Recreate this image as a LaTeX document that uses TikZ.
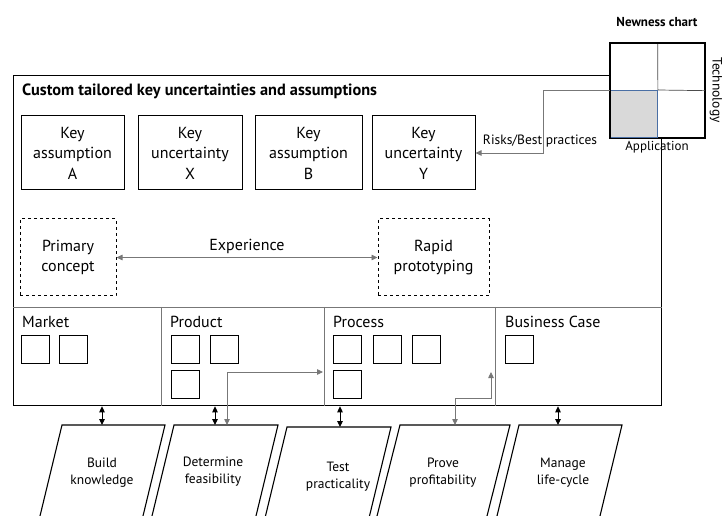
\documentclass[tikz,border=0pt]{standalone}
\usepackage{fontspec}
\setmainfont{PT Sans}
\usetikzlibrary{arrows.meta}
\definecolor{lgray}{HTML}{777777}
\definecolor{cellgray}{HTML}{D9D9D9}
\definecolor{cellblue}{HTML}{4A6FA5}
\begin{document}
\begin{tikzpicture}[x=1pt,y=-1pt,
  tip/.style={-{Triangle[length=6pt,width=5.5pt]}},
  dtip/.style={{Triangle[length=6pt,width=5.5pt]}-{Triangle[length=6pt,width=5.5pt]}},
  keybox/.style={draw,line width=1pt,minimum height=74pt,inner sep=0pt,align=center,font=\fontsize{16}{20.5}\selectfont},
  dashbox/.style={draw,dashed,line width=1pt,minimum height=77pt,inner sep=0pt,align=center,font=\fontsize{16}{19.5}\selectfont},
  sq/.style={draw,line width=1pt,minimum size=28pt,inner sep=0pt},
  sect/.style={anchor=base west,inner sep=0pt,font=\fontsize{16}{18}\selectfont},
  ptext/.style={align=center,font=\fontsize{13.5}{17}\selectfont},
  conn/.style={draw=lgray,line width=0.8pt},
  pgram/.style={draw,line width=1.1pt},
]
\useasboundingbox (0,0) rectangle (724,516);
\clip (0,0) rectangle (724,516);

% main box
\node[draw,line width=1.3pt,minimum width=648pt,minimum height=330pt,inner sep=0pt,anchor=north west] (main) at (13,75) {};
\node[anchor=base west,inner sep=0pt,font=\bfseries\fontsize{16.3}{18}\selectfont] (title) at (22,96) {Custom tailored key uncertainties and assumptions};

% key boxes
\node[keybox,minimum width=103pt] (kA) at (72.5,153) {Key\\assumption\\A};
\node[keybox,minimum width=104pt] (kX) at (190,153) {Key\\uncertainty\\X};
\node[keybox,minimum width=107pt] (kB) at (308.5,153) {Key\\assumption\\B};
\node[keybox,minimum width=103pt] (kY) at (423.5,153) {Key\\uncertainty\\Y};

% dashed boxes
\node[dashbox,minimum width=96pt] (prim) at (68,257.5) {Primary\\concept};
\node[dashbox,minimum width=111pt] (rapid) at (433.5,257.5) {Rapid\\prototyping};
\draw[conn,dtip] (prim.east) -- node[above=0pt,font=\fontsize{16}{18}\selectfont,text=black] (exp) {Experience} (rapid.west);

% sections
\draw[lgray,line width=0.8pt] (main.west |- 0,307) coordinate (sl) -- (main.east |- 0,307) coordinate (sr);
\coordinate (d1) at (161,307);
\coordinate (d2) at (324,307);
\coordinate (d3) at (495,307);
\draw[lgray,line width=0.8pt] (d1) -- (d1 |- main.south);
\draw[lgray,line width=0.8pt] (d2) -- (d2 |- main.south);
\draw[lgray,line width=0.8pt] (d3) -- (d3 |- main.south);
\node[sect] (mk) at (22,327) {Market};
\node[sect] (pd) at (170,327) {Product};
\node[sect] (pc) at (333,327) {Process};
\node[sect] (bc) at (505,327) {Business Case};

\node[sq] (m1) at (35,349.5) {};
\node[sq] (m2) at (73.5,349.5) {};
\node[sq] (p1) at (185,349.5) {};
\node[sq] (p2) at (224,349.5) {};
\node[sq] (p3) at (185,384) {};
\node[sq] (r1) at (347.5,349.5) {};
\node[sq] (r2) at (387,349.5) {};
\node[sq] (r3) at (426,349.5) {};
\node[sq] (r4) at (347.5,384) {};
\node[sq] (b1) at (519,349.5) {};

% newness chart
\node[draw,fill=white,line width=1.3pt,minimum size=94pt,inner sep=0pt,anchor=north west] (grid) at (610,43) {};
\node[draw=cellblue,fill=cellgray,line width=0.9pt,minimum size=47pt,inner sep=0pt,anchor=north west] (cell) at (610,90) {};
\draw[line width=0.7pt,black!70] (grid.north) -- (cell.north east);
\draw[line width=0.7pt,black!70] (cell.north east) -- (grid.east);
\draw[line width=1.3pt] (grid.north west) rectangle (grid.south east);
\node[font=\bfseries\fontsize{13}{15}\selectfont] (nc) at (657,22) {Newness chart};
\node[font=\fontsize{13}{15}\selectfont] (app) at (657,147) {Application};
\node[font=\fontsize{13.5}{15}\selectfont,rotate=-90] (tech) at (716,90) {Technology};

\coordinate (rk) at (543,90);
\draw[conn,tip] (cell.north west) -- (rk) |- (kY.east);
\node[font=\fontsize{13.5}{15}\selectfont] (risk) at (540,141) {Risks/Best practices};

% parallelograms
\draw[pgram] (40,516) -- (62,425) -- (165,425) -- (143,516);
\draw[pgram] (152,516) -- (174,425) -- (278,425) -- (256,516);
\draw[pgram] (265.5,516) -- (287,427) -- (391,427) -- (369.5,516);
\draw[pgram] (377,516) -- (400,425) -- (510,425) -- (487,516);
\draw[pgram] (497,516) -- (519,425) -- (622,425) -- (600,516);
\node[ptext] (t1) at (102,473) {Build\\knowledge};
\node[ptext] (t2) at (213,472) {Determine\\feasibility};
\node[ptext] (t3) at (338,477) {Test\\practicality};
\node[ptext] (t4) at (443,473) {Prove\\profitability};
\node[ptext] (t5) at (563,473) {Manage\\life-cycle};

\coordinate (q1) at (102,425);
\coordinate (q2) at (215,425);
\coordinate (q3) at (340,427);
\coordinate (q5) at (558,425);
\draw[line width=0.9pt,dtip] (q1 |- main.south) -- (q1);
\draw[line width=0.9pt,dtip] (q2 |- main.south) -- (q2);
\draw[line width=0.9pt,dtip] (q3 |- main.south) -- (q3);
\draw[line width=0.9pt,dtip] (q5 |- main.south) -- (q5);

\coordinate (f2) at (227,425);
\coordinate (fin) at (323,372);
\draw[conn,dtip] (f2) |- (fin);
\coordinate (f4) at (455,425);
\coordinate (fb) at (491,398);
\coordinate (pin) at (491,372);
\draw[conn,dtip] (f4) |- (fb) -- (pin);
\end{tikzpicture}
\end{document}
